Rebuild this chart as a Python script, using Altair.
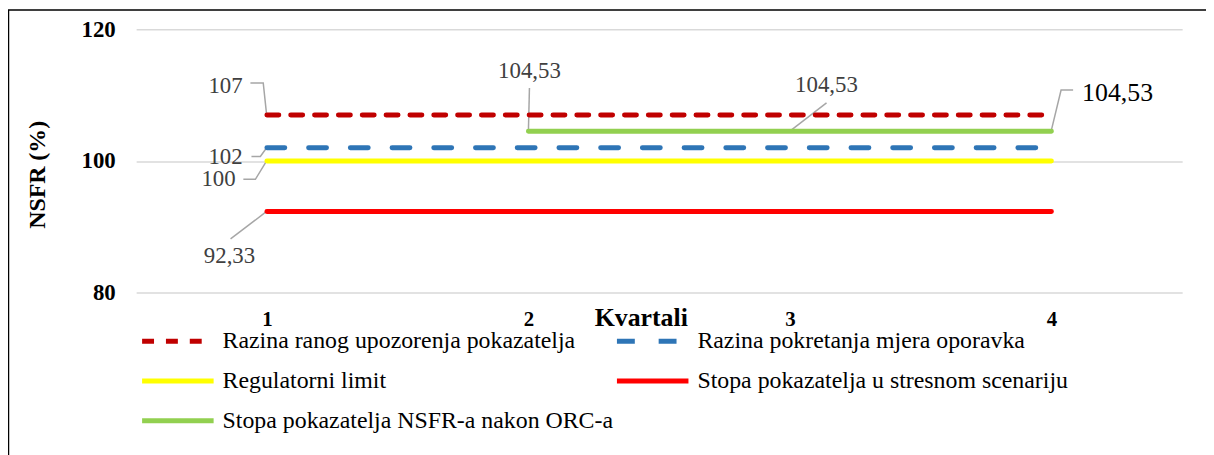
import altair as alt
import pandas as pd

# ---------------- data ----------------
series = [
    "Razina ranog upozorenja pokazatelja",
    "Razina pokretanja mjera oporavka",
    "Regulatorni limit",
    "Stopa pokazatelja u stresnom scenariju",
    "Stopa pokazatelja NSFR-a nakon ORC-a",
]
quarters = [1, 2, 3, 4]
rano = [107, 107, 107, 107]
pokretanje = [102, 102, 102, 102]
limit = [100, 100, 100, 100]
stres = [92.33, 92.33, 92.33, 92.33]
orc_quarters = [2, 3, 4]
orc = [104.53, 104.53, 104.53]

colors = ["#C00000", "#2E75B6", "#FFFF00", "#FF0000", "#92D050"]
dashes = [[12, 12], [18, 24], [1, 0], [1, 0], [1, 0]]

# data labels (text, anchor position in data units)
label_text = ["107", "102", "100", "92,33", "104,53", "104,53", "104,53"]
label_x = [0.842, 0.842, 0.815, 0.857, 2.004, 3.140, 4.253]
label_y = [111.40, 100.53, 97.21, 85.58, 113.66, 111.55, 110.34]
label_color = ["#404040", "#404040", "#404040", "#404040", "#404040", "#404040", "#000000"]
label_size = [23, 23, 23, 23, 23, 23, 26]

# leader lines (one list of points per label)
leader_x = [
    [0.937, 0.986, 0.999],
    [0.941, 0.975, 0.999],
    [0.910, 0.956, 0.999],
    [0.861, 0.999],
    [2.004, 2.0],
    [3.140, 3.0],
    [4.083, 4.037, 3.999],
]
leader_y = [
    [111.85, 111.85, 107.0],
    [100.68, 100.68, 102.0],
    [97.21, 97.21, 100.0],
    [88.15, 92.33],
    [111.09, 104.53],
    [108.83, 104.53],
    [110.79, 110.79, 104.53],
]

# ---------------- tables ----------------
rows = []
for name, xs, ys in [
    (series[0], quarters, rano),
    (series[1], quarters, pokretanje),
    (series[2], quarters, limit),
    (series[3], quarters, stres),
    (series[4], orc_quarters, orc),
]:
    for x, y in zip(xs, ys):
        rows.append({"serija": name, "kvartal": x, "vrijednost": y})
df_lines = pd.DataFrame(rows)

df_labels = pd.DataFrame({
    "t": label_text, "x": label_x, "y": label_y,
    "c": label_color, "s": label_size,
})

lrows = []
for i, (xs, ys) in enumerate(zip(leader_x, leader_y)):
    for j, (x, y) in enumerate(zip(xs, ys)):
        lrows.append({"id": i, "o": j, "x": x, "y": y})
df_leaders = pd.DataFrame(lrows)

FONT = "Liberation Serif"

xscale = alt.Scale(domain=[0.5, 4.5], nice=False, zero=False)
yscale = alt.Scale(domain=[80, 120], nice=False, zero=False)

legend = alt.Legend(
    title=None, orient="none", legendX=30, legendY=302,
    columns=2, direction="horizontal",
    symbolType="M-4,0H4", symbolSize=324, symbolStrokeWidth=5,
    labelOffset=33, rowPadding=16, columnPadding=-7,
)

lines = alt.Chart(df_lines).mark_line(strokeWidth=5, strokeCap="round").encode(
    x=alt.X(
        "kvartal:Q", scale=xscale,
        axis=alt.Axis(
            values=quarters, format="d", title="Kvartali", grid=False,
            domain=False, ticks=False, labelFont=FONT, labelFontSize=21,
            labelFontWeight="bold", labelColor="black", labelPadding=16,
            titleFont=FONT, titleFontSize=26, titleFontWeight="bold",
            titleColor="black", titleX=508, titleY=33,
            titleBaseline="alphabetic", titleAlign="center",
        ),
    ),
    y=alt.Y(
        "vrijednost:Q", scale=yscale,
        axis=alt.Axis(
            values=[80, 100, 120], title="NSFR (%)", grid=True,
            gridColor="#D9D9D9", gridWidth=1.5, domain=False, ticks=False,
            labelFont=FONT, labelFontSize=23, labelFontWeight="bold",
            labelColor="black", labelPadding=21,
            titleFont=FONT, titleFontSize=24, titleFontWeight="bold",
            titleColor="black", titleX=-99, titleY=146,
            titleBaseline="middle", titleAlign="center", titleAngle=-90,
        ),
    ),
    color=alt.Color(
        "serija:N",
        scale=alt.Scale(domain=series, range=colors),
        sort=series,
        legend=legend,
    ),
    strokeDash=alt.StrokeDash(
        "serija:N",
        scale=alt.Scale(domain=series, range=dashes),
        sort=series,
        legend=legend,
    ),
    order=alt.Order("kvartal:Q"),
)

leaders = alt.Chart(df_leaders).mark_line(color="#A6A6A6", strokeWidth=1.5).encode(
    x=alt.X("x:Q", scale=xscale),
    y=alt.Y("y:Q", scale=yscale),
    detail="id:N",
    order="o:Q",
)

labels = alt.Chart(df_labels).mark_text(font=FONT, align="center", baseline="middle").encode(
    x=alt.X("x:Q", scale=xscale),
    y=alt.Y("y:Q", scale=yscale),
    text="t:N",
    color=alt.Color("c:N", scale=None),
    size=alt.Size("s:Q", scale=None),
)

frame = alt.Chart(pd.DataFrame({"a": [0]})).mark_rect(
    filled=False, stroke="black", strokeWidth=1.5
).encode(
    x=alt.value(-128.5), y=alt.value(-19.5),
    x2=alt.value(3000), y2=alt.value(3000),
)

chart = alt.layer(frame, leaders, lines, labels).properties(
    width=1053, height=265,
    autosize=alt.AutoSizeParams(type="none"),
    padding={"left": 129, "top": 20, "right": 24, "bottom": 162},
).configure(
    font=FONT,
).configure_view(
    stroke=None,
).configure_legend(
    labelFont=FONT, labelFontSize=24, labelColor="black", labelLimit=600,
)

chart.save("out.html", embed_options={"renderer": "svg", "actions": False})
